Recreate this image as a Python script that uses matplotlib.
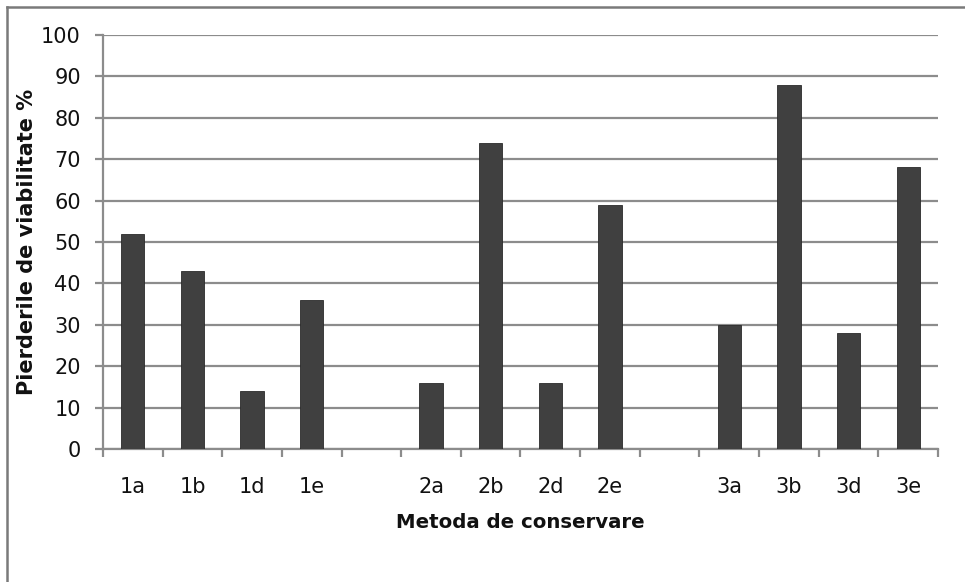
import matplotlib
matplotlib.use("Agg")
import matplotlib.pyplot as plt
from matplotlib.lines import Line2D
import numpy as np

categories = ["1a", "1b", "1d", "1e", "", "2a", "2b", "2d", "2e", "", "3a", "3b", "3d", "3e"]
values = [52, 43, 14, 36, None, 16, 74, 16, 59, None, 30, 88, 28, 68]
y_ticks = [0, 10, 20, 30, 40, 50, 60, 70, 80, 90, 100]

BAR = "#404040"
GRID = "#8c8c8c"
TEXT = "#111111"

fig = plt.figure(figsize=(9.65, 5.82), dpi=100)
fig.patch.set_facecolor("white")
ax = fig.add_axes([103 / 965, 1 - 449 / 582, (938 - 103) / 965, (449 - 35) / 582])

x = np.arange(len(categories))
heights = [v if v is not None else 0 for v in values]
ax.bar(x, heights, width=0.39, color=BAR, edgecolor="#2a2a2a", linewidth=0.6, zorder=3)

ax.set_xlim(-0.5, len(categories) - 0.5)
ax.set_ylim(0, 100)
ax.set_yticks(y_ticks)
ax.yaxis.grid(True, color=GRID, linewidth=1.6, zorder=0)
ax.set_axisbelow(True)

# category labels centred, tick marks on the slot boundaries
ax.set_xticks(x)
ax.set_xticklabels(categories)
ax.set_xticks(np.arange(-0.5, len(categories)), minor=True)
ax.tick_params(axis="x", which="major", length=0, pad=20, labelsize=15, colors=TEXT)
ax.tick_params(axis="x", which="minor", length=6, width=1.6, direction="out", color=GRID)
ax.tick_params(axis="y", length=6, width=1.6, direction="out", color=GRID, pad=10,
               labelsize=15, labelcolor=TEXT)

for side in ("top", "right"):
    ax.spines[side].set_visible(False)
for side in ("left", "bottom"):
    ax.spines[side].set_color(GRID)
    ax.spines[side].set_linewidth(1.6)

ax.set_xlabel("Metoda de conservare", fontsize=14.2, fontweight="bold", labelpad=12, color=TEXT)
ax.set_ylabel("Pierderile de viabilitate %", fontsize=15, fontweight="bold", labelpad=3, color=TEXT)

# outer chart frame (left and top edges)
fig.add_artist(Line2D([7 / 965, 7 / 965], [0, 1 - 7 / 582], transform=fig.transFigure,
                      color="#7a7a7a", linewidth=1.8))
fig.add_artist(Line2D([7 / 965, 1], [1 - 7 / 582, 1 - 7 / 582], transform=fig.transFigure,
                      color="#7a7a7a", linewidth=1.8))

fig.savefig("out.png", dpi=100, facecolor="white")
